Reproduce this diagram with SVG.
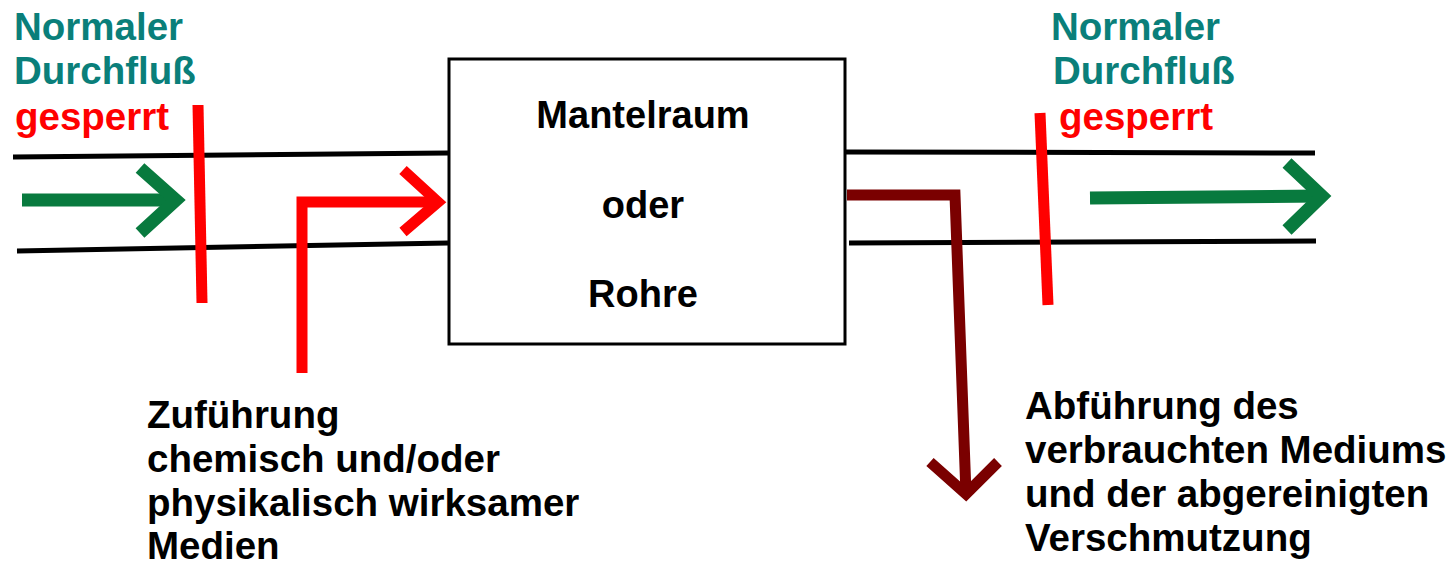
<svg xmlns="http://www.w3.org/2000/svg" width="1456" height="566" viewBox="0 0 1456 566">
<style>
text{font-family:"Liberation Sans",Arial,sans-serif;font-weight:bold;font-size:38.5px}
.teal{fill:#0a7f7a}
.red{fill:#ff0000}
.blk{fill:#000}
.pipe{stroke:#000;stroke-width:5;fill:none}
.green{stroke:#087a3e;stroke-width:13;fill:none}
.rline{stroke:#ff0000;stroke-width:11;fill:none}
.mar{stroke:#7a0000;stroke-width:11;fill:none}
</style>
<rect width="1456" height="566" fill="#fff"/>
<g id="pipes">
<path class="pipe" d="M13 157 L448 153 M17 251 L448 243"/>
<path class="pipe" d="M845 152 L1315 153 M849 243 L1316 241"/>
</g>
<g id="box">
<rect x="449" y="59" width="396" height="285" fill="#fff" stroke="#000" stroke-width="3"/>
<text x="643" y="128" text-anchor="middle" class="blk" style="font-size:38px">Mantelraum</text>
<text x="643" y="218" text-anchor="middle" class="blk" style="font-size:38px">oder</text>
<text x="643" y="307" text-anchor="middle" class="blk" style="font-size:38px">Rohre</text>
</g>
<g id="labels-left">
<text x="14" y="40" class="teal">Normaler</text>
<text x="14" y="84" class="teal">Durchfluß</text>
<text x="15" y="130" class="red">gesperrt</text>
</g>
<g id="labels-right">
<text x="1051" y="40" class="teal">Normaler</text>
<text x="1053" y="84" class="teal">Durchfluß</text>
<text x="1059" y="130" class="red">gesperrt</text>
</g>
<g id="supply-label">
<text x="147" y="428" class="blk">Zuführung</text>
<text x="147" y="472" class="blk">chemisch und/oder</text>
<text x="147" y="516" class="blk">physikalisch wirksamer</text>
<text x="147" y="559" class="blk">Medien</text>
</g>
<g id="discharge-label">
<text x="1025" y="419" class="blk">Abführung des</text>
<text x="1025" y="463" class="blk">verbrauchten Mediums</text>
<text x="1025" y="507" class="blk">und der abgereinigten</text>
<text x="1025" y="551" class="blk">Verschmutzung</text>
</g>
<g id="connectors">
<path class="green" d="M22 200 L176 200"/>
<path class="green" d="M140 168 L176 200 L140 233"/>
<path class="green" d="M1090 198 L1322 196"/>
<path class="green" d="M1287 163 L1322 196 L1287 230"/>
<path class="rline" d="M198 105 L202 303"/>
<path class="rline" d="M1040 113 L1048 305"/>
<path class="rline" d="M302 373 L302 202 L438 202"/>
<path class="rline" d="M403 170 L438 202 L403 232"/>
<path class="mar" d="M847 195 L955 195 L966 494"/>
<path class="mar" d="M930 462 L966 494 L998 462"/>
</g>
</svg>
